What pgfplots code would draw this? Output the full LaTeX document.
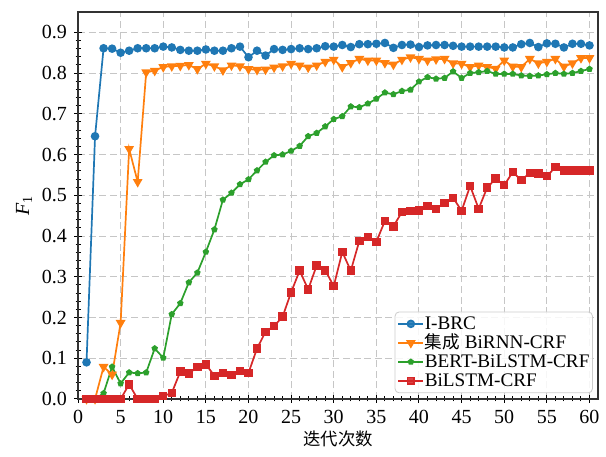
\documentclass[border=0pt]{standalone}
\usepackage{fontspec}
\setmainfont{Liberation Serif}
\newfontfamily\cjk{Noto Sans CJK SC}
\usepackage{pgfplots}
\pgfplotsset{compat=1.18}
\definecolor{tb}{HTML}{1F77B4}
\definecolor{to}{HTML}{FF7F0E}
\definecolor{tg}{HTML}{2CA02C}
\definecolor{tr}{HTML}{D62728}
\pgfplotstableread{
x a b c d
1 0.090 0 0 0
2 0.645 0 0 0
3 0.861 0.079 0.014 0
4 0.860 0.060 0.079 0
5 0.850 0.187 0.038 0
6 0.855 0.614 0.065 0.036
7 0.861 0.533 0.063 0
8 0.861 0.802 0.065 0
9 0.861 0.806 0.124 0
10 0.865 0.815 0.101 0.007
11 0.863 0.817 0.208 0.015
12 0.857 0.818 0.235 0.067
13 0.855 0.820 0.286 0.063
14 0.855 0.810 0.310 0.078
15 0.858 0.823 0.361 0.085
16 0.855 0.817 0.416 0.057
17 0.855 0.807 0.489 0.064
18 0.861 0.819 0.506 0.059
19 0.865 0.817 0.527 0.069
20 0.839 0.810 0.539 0.064
21 0.855 0.808 0.561 0.124
22 0.843 0.809 0.582 0.165
23 0.859 0.814 0.598 0.179
24 0.857 0.817 0.600 0.202
25 0.859 0.823 0.609 0.262
26 0.861 0.819 0.621 0.315
27 0.859 0.814 0.645 0.269
28 0.861 0.819 0.653 0.328
29 0.866 0.828 0.669 0.316
30 0.865 0.833 0.687 0.277
31 0.869 0.815 0.694 0.361
32 0.864 0.825 0.718 0.315
33 0.871 0.835 0.716 0.388
34 0.871 0.831 0.725 0.398
35 0.872 0.831 0.737 0.386
36 0.874 0.825 0.752 0.437
37 0.862 0.821 0.748 0.424
38 0.869 0.833 0.756 0.459
39 0.870 0.839 0.759 0.461
40 0.864 0.835 0.779 0.463
41 0.868 0.831 0.790 0.474
42 0.869 0.834 0.786 0.467
43 0.869 0.835 0.788 0.481
44 0.867 0.824 0.804 0.494
45 0.865 0.823 0.788 0.462
46 0.865 0.815 0.800 0.523
47 0.865 0.819 0.802 0.467
48 0.865 0.815 0.805 0.519
49 0.865 0.811 0.798 0.541
50 0.863 0.831 0.798 0.525
51 0.863 0.816 0.798 0.557
52 0.871 0.815 0.794 0.537
53 0.874 0.835 0.793 0.555
54 0.864 0.824 0.794 0.554
55 0.873 0.828 0.797 0.547
56 0.872 0.835 0.800 0.569
57 0.863 0.816 0.798 0.561
58 0.872 0.824 0.800 0.561
59 0.872 0.837 0.805 0.561
60 0.868 0.837 0.810 0.561
}\data
\begin{document}
\begin{tikzpicture}
\begin{axis}[
  scale only axis,
  width=260pt, height=193.5pt,
  xmin=0, xmax=61, ymin=0, ymax=0.95,
  xtick={0,5,...,60}, ytick={0,0.1,...,0.9},
  minor x tick num=4, minor y tick num=4,
  tick align=center,
  xtick pos=bottom, ytick pos=left,
  major tick length=4pt, minor tick length=2.5pt,
  every tick/.style={black, line width=0.5pt},
  axis line style={black!80, line width=0.6pt},
  grid=major,
  major grid style={gray!45, dash pattern=on 3.5pt off 1.8pt, line width=0.5pt},
  yticklabel style={/pgf/number format/.cd, fixed, fixed zerofill, precision=1},
  /pgf/number format/assume math mode=true,
  tick label style={font=\fontsize{10}{12}\selectfont},
  xlabel={\cjk\fontsize{8.7}{10}\selectfont 迭代次数},
  ylabel={\fontsize{10}{12}\selectfont\textit{F}\textsubscript{1}},
  xlabel style={yshift=3pt},
  ylabel style={yshift=-2pt},
  legend style={at={(0.99,0.015)}, anchor=south east, draw=gray!40, rounded corners=2pt, fill=white, fill opacity=0.85, text opacity=1,
     font=\fontsize{9.6}{10}\selectfont, row sep=0pt, inner sep=1.2pt,
     nodes={inner sep=0.3pt, text height=7.3pt, text depth=1.6pt}},
  legend cell align=left,
  legend image code/.code={\draw[mark repeat=2,mark phase=2] plot coordinates {(0cm,0cm) (0.22cm,0cm) (0.44cm,0cm)};},
  every axis plot/.append style={line width=0.85pt},
]
\addplot[color=tb, mark=*, mark size=1.7pt] table[x=x,y=a]{\data};
\addlegendentry{I-BRC}
\addplot[color=to, mark=triangle*, mark options={rotate=180}, mark size=2pt] table[x=x,y=b]{\data};
\addlegendentry{{\cjk\fontsize{8.8}{9}\selectfont 集成} BiRNN-CRF}
\addplot[color=tg, mark=pentagon*, mark size=1.2pt] table[x=x,y=c]{\data};
\addlegendentry{BERT-BiLSTM-CRF}
\addplot[color=tr, mark=square*, mark size=1.7pt] table[x=x,y=d]{\data};
\addlegendentry{BiLSTM-CRF}
\end{axis}
\pgfresetboundingbox
\path ([shift={(-39pt,-29pt)}]current axis.south west) rectangle ([shift={(4pt,6pt)}]current axis.north east);
\end{tikzpicture}
\end{document}
